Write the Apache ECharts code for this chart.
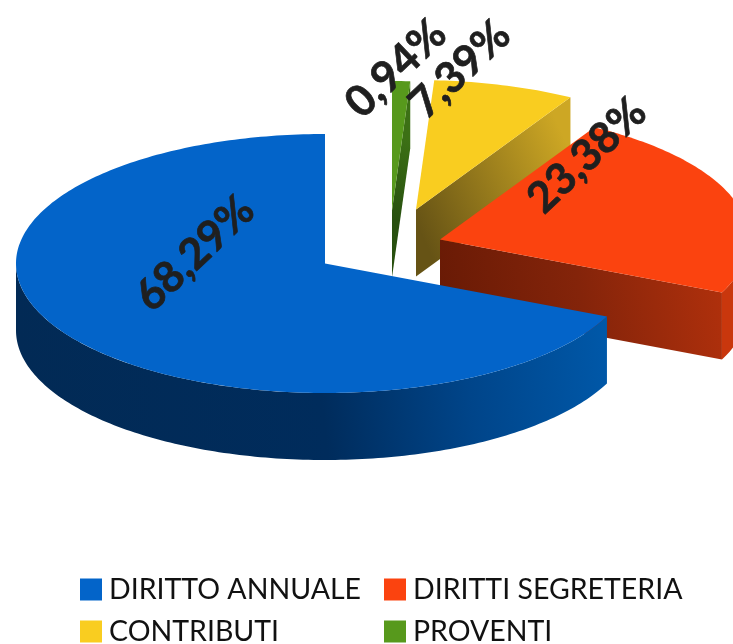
<!DOCTYPE html>
<html>
<head>
<meta charset="utf-8">
<title>Torta 3D</title>
<script src="https://cdn.jsdelivr.net/npm/echarts@6/dist/echarts.min.js"></script>
<style>
  html, body { margin: 0; padding: 0; background: #fff; }
  #chart { width: 733px; height: 644px; }
</style>
</head>
<body>
<div id="chart"></div>
<script>
// dati del grafico
var categories = ['DIRITTO ANNUALE', 'DIRITTI SEGRETERIA', 'CONTRIBUTI', 'PROVENTI'];
var shares = [68.29, 23.38, 7.39, 0.94];
var colors = ['#0364c9', '#fb430f', '#f9cd20', '#57991c'];

// geometria della torta
var CX = 325, CY = 263.5, RX = 309, RY = 129.5, DEPTH = 67;
// spostamento delle fette rispetto al centro
var explode = [[0, 0], [115, -24], [91, -54], [67, -53]];
// centro delle etichette rispetto al centro della torta
var labelAt = [[-130, -10], [262, -108], [135, -194], [71, -195]];
// ordine di disegno: il blu sta davanti a tutti
var depthOrder = [40, 30, 20, 10];
// posizione delle voci di legenda
var legendAt = [[80, 575], [384, 575], [80, 617], [384, 617]];

var wallColors = [
  { outer: [[0, '#022a55'], [0.5, '#002c5c'], [0.75, '#00458a'], [1, '#0059aa']], start: [[0, '#002c5c'], [1, '#002c5c']] },
  { outer: [[0, '#c9370d'], [1, '#dc3c0f']], start: [[0, '#681a05'], [0.5, '#84240a'], [1, '#b0300c']] },
  { outer: [[0, '#c9a422'], [1, '#c9a422']], start: [[0, '#665315'], [1, '#cda724']] },
  { outer: [[0, '#3a6b14'], [1, '#3a6b14']], start: [[0, '#28500f'], [1, '#3c7015']] }
];

function startAngle (index) {
  var sum = 0;
  for (var i = 0; i < index; i++) {
    sum += shares[i];
  }
  return 90 + sum * 3.6;
}

function rimPoint (cx, cy, deg) {
  var rad = deg * Math.PI / 180;
  return [cx + RX * Math.cos(rad), cy - RY * Math.sin(rad)];
}

function arcPoints (cx, cy, from, to) {
  var points = [];
  var steps = Math.max(2, Math.ceil(to - from));
  for (var i = 0; i <= steps; i++) {
    points.push(rimPoint(cx, cy, from + (to - from) * i / steps));
  }
  return points;
}

function gradient (stops, x0, y0, x1, y1) {
  return new echarts.graphic.LinearGradient(x0, y0, x1, y1, stops.map(function (s) {
    return { offset: s[0], color: s[1] };
  }));
}

function renderSlice (params, api) {
  var i = params.seriesIndex;
  var share = api.value(0);
  var from = startAngle(i);
  var to = from + share * 3.6;
  var cx = CX + explode[i][0];
  var cy = CY + explode[i][1];
  var children = [];

  // parete sotto il primo lato radiale
  var a = rimPoint(cx, cy, from);
  children.push({
    type: 'polygon',
    z2: depthOrder[i],
    shape: { points: [[cx, cy], a, [a[0], a[1] + DEPTH], [cx, cy + DEPTH]] },
    style: { fill: gradient(wallColors[i].start, 0, 0.7, 1, 0.3) }
  });

  // parete esterna, solo la parte rivolta verso chi guarda
  var lo = Math.max(from, 180);
  var hi = Math.min(to, 360);
  if (hi > lo) {
    var top = arcPoints(cx, cy, lo, hi);
    var bottom = top.map(function (p) {
      return [p[0], p[1] + DEPTH];
    }).reverse();
    children.push({
      type: 'polygon',
      z2: depthOrder[i] + 1,
      shape: { points: top.concat(bottom) },
      style: { fill: gradient(wallColors[i].outer, 0, 0.3, 1, 0) }
    });
  }

  // faccia superiore
  children.push({
    type: 'polygon',
    z2: depthOrder[i] + 2,
    shape: { points: [[cx, cy]].concat(arcPoints(cx, cy, from, to)) },
    style: { fill: colors[i] }
  });

  // etichetta
  children.push({
    type: 'text',
    z2: 100,
    x: CX + labelAt[i][0],
    y: CY + labelAt[i][1],
    rotation: 0.76,
    style: {
      text: share.toFixed(2).replace('.', ',') + '%',
      fill: '#1f1f1f',
      stroke: '#1f1f1f',
      lineWidth: 0.7,
      font: 'bold 43px Lato',
      align: 'center',
      verticalAlign: 'middle'
    }
  });

  return { type: 'group', children: children };
}

var chart = echarts.init(document.getElementById('chart'));

chart.setOption({
  animation: false,
  backgroundColor: '#ffffff',
  // una legenda per voce, cosi le colonne restano allineate
  legend: categories.map(function (name, i) {
    return {
      left: legendAt[i][0],
      top: legendAt[i][1],
      itemWidth: 22,
      itemHeight: 22,
      selectedMode: false,
      icon: 'rect',
      padding: 0,
      textStyle: { fontFamily: 'Lato', fontSize: 28.5, color: '#111111', padding: [0, 0, 0, 2] },
      data: [name]
    };
  }),
  series: categories.map(function (name, i) {
    return {
      type: 'custom',
      name: name,
      coordinateSystem: 'none',
      renderItem: renderSlice,
      itemStyle: { color: colors[i] },
      data: [[shares[i]]]
    };
  })
});
</script>
</body>
</html>
